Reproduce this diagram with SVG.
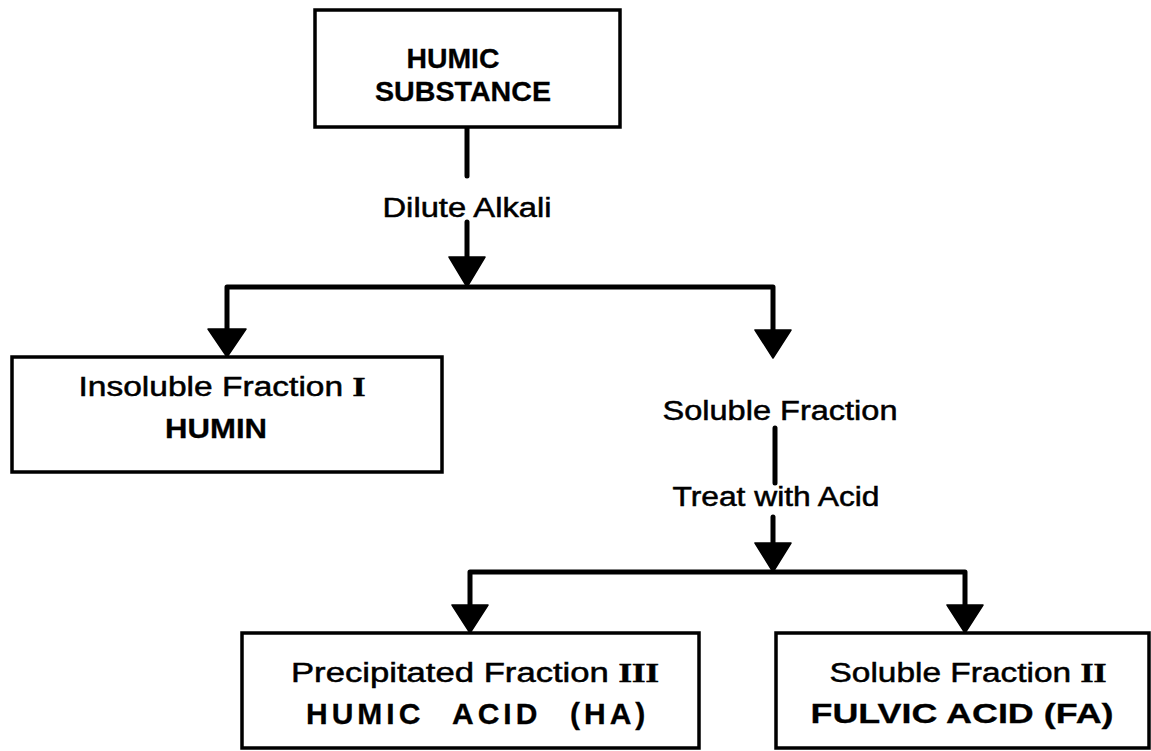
<svg xmlns="http://www.w3.org/2000/svg" width="1151" height="751" viewBox="0 0 1151 751">
<style>
.box{fill:#fff;stroke:#000;stroke-width:3.5}
.ln{fill:none;stroke:#000;stroke-width:5;stroke-linejoin:round;stroke-linecap:round}
.ah{fill:#000;stroke:#000;stroke-width:1.5;stroke-linejoin:round}
.t{font-family:"Liberation Sans",Arial,sans-serif;font-size:27px;fill:#000;stroke:#000;stroke-width:0.5;text-anchor:middle}
.b{font-weight:bold;font-size:28px;stroke-width:0.3}
.r{font-family:"Liberation Serif","Times New Roman",serif;font-weight:bold}
.ha{font-family:"Liberation Sans",Arial,sans-serif;font-size:30px;font-weight:bold;letter-spacing:4px;fill:#000;stroke:#000;stroke-width:0.3}
</style>
<rect width="1151" height="751" fill="#fff"/>
<g id="connectors">
<line class="ln" x1="467" y1="128" x2="467" y2="176"/>
<line class="ln" x1="467" y1="222" x2="467" y2="258"/>
<polygon class="ah" points="449,257 485,257 467,287"/>
<path class="ln" d="M227,329 V287 H773 V330"/>
<polygon class="ah" points="208,329 246,329 227,357"/>
<polygon class="ah" points="755,330 791,330 773,358"/>
<line class="ln" x1="775" y1="428" x2="775" y2="483"/>
<line class="ln" x1="773" y1="517" x2="773" y2="544"/>
<polygon class="ah" points="755,543 791,543 773,572"/>
<path class="ln" d="M470,605 V572 H965 V605"/>
<polygon class="ah" points="452,605 488,605 470,633"/>
<polygon class="ah" points="947,605 983,605 965,633"/>
</g>
<g id="humic-substance">
<rect class="box" x="315" y="10" width="305" height="117"/>
<text class="t b" x="453" y="68" textLength="93" lengthAdjust="spacingAndGlyphs">HUMIC</text>
<text class="t b" x="463" y="101" textLength="176" lengthAdjust="spacingAndGlyphs">SUBSTANCE</text>
</g>
<g id="dilute-alkali">
<text class="t" x="467" y="217" textLength="169" lengthAdjust="spacingAndGlyphs">Dilute Alkali</text>
</g>
<g id="humin">
<rect class="box" x="12" y="357" width="430" height="115"/>
<text class="t" x="222" y="396" textLength="287" lengthAdjust="spacingAndGlyphs">Insoluble Fraction <tspan class="r">I</tspan></text>
<text class="t b" x="216" y="438" textLength="102" lengthAdjust="spacingAndGlyphs">HUMIN</text>
</g>
<g id="soluble-fraction">
<text class="t" x="780" y="420" textLength="235" lengthAdjust="spacingAndGlyphs">Soluble Fraction</text>
</g>
<g id="treat-with-acid">
<text class="t" x="776" y="506" textLength="207" lengthAdjust="spacingAndGlyphs">Treat with Acid</text>
</g>
<g id="humic-acid">
<rect class="box" x="242" y="633" width="457" height="115"/>
<text class="t" x="475" y="682" textLength="368" lengthAdjust="spacingAndGlyphs">Precipitated Fraction <tspan class="r">III</tspan></text>
<text class="ha" y="724"><tspan x="306">HUMIC</tspan> <tspan x="452">ACID</tspan> <tspan x="570">(HA)</tspan></text>
</g>
<g id="fulvic-acid">
<rect class="box" x="776" y="633" width="373" height="115"/>
<text class="t" x="968" y="682" textLength="277" lengthAdjust="spacingAndGlyphs">Soluble Fraction <tspan class="r">II</tspan></text>
<text class="t b" x="962" y="723" textLength="303" lengthAdjust="spacingAndGlyphs">FULVIC ACID (FA)</text>
</g>
</svg>
